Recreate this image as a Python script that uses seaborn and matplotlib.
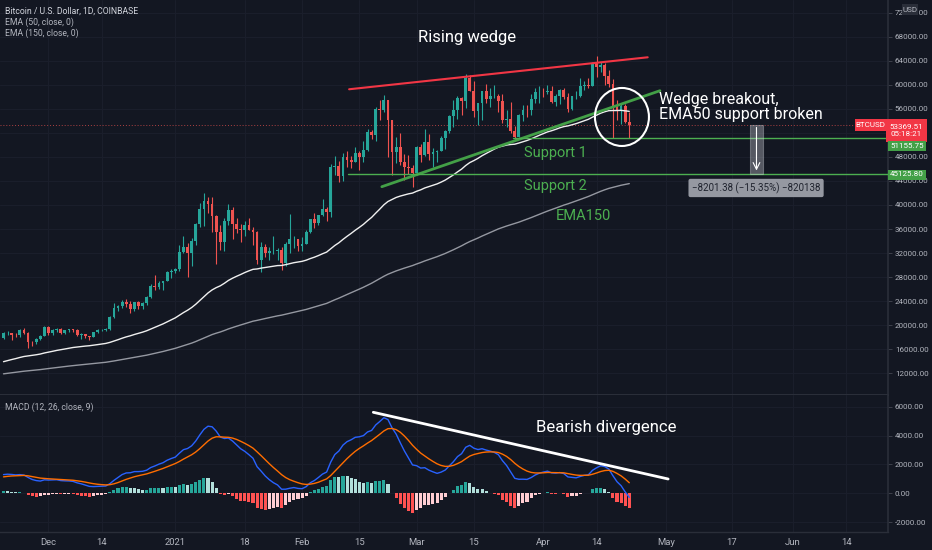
import numpy as np
import pandas as pd
import matplotlib
matplotlib.use('Agg')
import matplotlib.pyplot as plt
import matplotlib.dates as mdates
from matplotlib.patches import Ellipse, Rectangle
import seaborn as sns

# daily candles BTCUSD (Coinbase), 2020-11-20 .. 2021-04-22
first_open = 17820
closes_nov = [18680, 18710, 18420, 18370, 19160, 18730, 17150, 17140, 17720, 18180, 19700]
highs_nov = [18820, 18960, 18720, 18770, 19420, 19480, 18920, 17450, 17880, 18350, 19860]
lows_nov = [17760, 18330, 17610, 18000, 18030, 18570, 16200, 16530, 16880, 17540, 18180]

closes_dec = [18770, 19220, 19420, 18650, 19150, 19360, 19170, 18320, 18550, 18250,
              18030, 18800, 19170, 19270, 19430, 21340, 22800, 23130, 23860, 23480,
              22730, 23820, 23250, 23720, 24700, 26490, 26280, 27080, 27360, 28860, 28990]
highs_dec = [19920, 19300, 19590, 19520, 19170, 19420, 19420, 19290, 18640, 18560,
             18280, 18950, 19420, 19350, 19570, 21560, 23770, 23280, 24170, 24290,
             24100, 23840, 24100, 23790, 24780, 26880, 28420, 27400, 27380, 29000, 29300]
lows_dec = [18320, 18340, 18920, 18590, 18500, 18860, 18900, 18200, 17650, 17910,
            17570, 18000, 18700, 19000, 19050, 19280, 21230, 22350, 22780, 23080,
            22000, 22360, 22700, 22720, 23430, 24500, 25850, 26100, 25900, 27340, 27850]

closes_jan = [29400, 32200, 33000, 32030, 34030, 36830, 39410, 40670, 40240, 38240,
              35550, 33920, 37320, 39190, 36830, 36020, 35800, 36630, 35910, 35470,
              30850, 33000, 32090, 32290, 32370, 32570, 30430, 33470, 34270, 34290, 33110]
highs_jan = [29600, 33300, 34800, 33650, 34500, 36930, 40370, 41950, 41350, 41400,
             38300, 36600, 37850, 40100, 39700, 37900, 36800, 37400, 37850, 36400,
             35600, 33800, 33500, 32950, 34880, 32900, 32940, 33800, 38500, 34900, 34300]
lows_jan = [28700, 28950, 32000, 28000, 29900, 33400, 36300, 36500, 38720, 35500,
            30100, 32500, 32400, 36700, 34400, 35400, 33850, 34800, 35900, 33400,
            30100, 28800, 31400, 30900, 31900, 30800, 29240, 29900, 31950, 32900, 32300]

closes_feb = [33520, 35510, 37620, 36940, 38290, 39260, 38900, 46400, 46510, 44840,
              47970, 47410, 47220, 48600, 47930, 49150, 52120, 51570, 55900, 55870,
              57480, 54090, 48890, 49700, 47100, 46340, 46170, 45240]
highs_feb = [34700, 35900, 37650, 38700, 38300, 40950, 39700, 46750, 48200, 47300,
             48600, 48900, 48150, 49700, 49000, 50600, 52600, 52550, 56300, 57500,
             58350, 57500, 54180, 51300, 52000, 48400, 48350, 46600]
lows_feb = [32300, 33450, 35400, 36200, 36600, 38200, 37400, 37980, 45000, 43800,
            44000, 46300, 46200, 47100, 45800, 47100, 48950, 50900, 50700, 54100,
            55500, 48000, 45000, 47000, 46700, 44100, 45100, 43000]

closes_mar = [49620, 48380, 50540, 48440, 48870, 48910, 51200, 52390, 54880, 55850,
              57790, 57230, 61190, 59000, 55620, 56900, 58910, 57660, 58080, 58120,
              57350, 54100, 54340, 52300, 51310, 55030, 55840, 55780, 57620, 58790, 58800]
highs_mar = [49800, 50200, 52600, 51800, 49450, 49200, 51450, 52400, 54900, 57400,
             58150, 58000, 61800, 61700, 60600, 56950, 58970, 60100, 59450, 59900,
             58450, 58400, 55850, 57200, 53200, 55100, 56600, 56550, 58400, 59400, 59800]
lows_mar = [45000, 47100, 48100, 47500, 46300, 47100, 48900, 49300, 51900, 53000,
            54300, 55000, 56100, 58900, 54600, 53300, 54200, 56950, 56300, 57850,
            55500, 53700, 53000, 52000, 50900, 51300, 53950, 54700, 55000, 57000, 56900]

closes_apr = [58740, 58960, 57100, 58200, 59130, 57990, 56010, 58080, 58100, 59770,
              60000, 59860, 63580, 62960, 63260, 61430, 60070, 56270, 55710, 56470,
              53840, 53370]
highs_apr = [59470, 60000, 59800, 58500, 59250, 59500, 58650, 58150, 58900, 61200,
             60650, 61150, 63800, 64850, 63800, 63550, 62500, 61000, 57500, 57000,
             56800, 55450]
lows_apr = [57950, 58450, 57000, 56500, 56800, 57700, 55500, 55800, 57650, 57900,
            59050, 59400, 59800, 61300, 62050, 60000, 59600, 51200, 54200, 53400,
            53700, 51160]

# indicator state on the day before the first candle (read from the left edge)
ema50_seed = 13740
ema150_seed = 11820
ema12_seed = 16900
ema26_seed = 15650
signal_seed = 1100

last_price = 53369.51
support1 = 51155.75
support2 = 45125.80

# drawings on the chart
wedge_top_x = ['2021-02-12 12:00', '2021-04-26 12:00']
wedge_top_y = [59250, 64570]
wedge_low_x = ['2021-02-20 12:00', '2021-04-29 12:00']
wedge_low_y = [43040, 59010]
support1_start = '2021-03-24 14:00'
support2_start = '2021-02-12 05:00'
diverg_x = ['2021-02-18 10:00', '2021-05-01 12:00']
diverg_y = [5625, 993]
circle_center = ('2021-04-20 05:00', 54640)
measure_x = '2021-05-21 12:00'

tick_dates = ['2020-12-01', '2020-12-14', '2021-01-01', '2021-01-18', '2021-02-01',
              '2021-02-15', '2021-03-01', '2021-03-15', '2021-04-01', '2021-04-14',
              '2021-05-01', '2021-05-17', '2021-06-01', '2021-06-14']
tick_names = ['Dec', '14', '2021', '18', 'Feb', '15', 'Mar', '15', 'Apr', '14',
              'May', '17', 'Jun', '14']
price_ticks = list(range(12000, 72001, 4000))
hidden_price_tick = 52000   # sits under the last-price tag
macd_ticks = [-2000, 0, 2000, 4000, 6000]

BG = '#131722'
TXT = '#b2b5be'
GRID = '#1b1f2c'
SEP = '#2a2e39'
UP = '#26a69a'
DOWN = '#ef5350'
GREEN = '#4caf50'


def ema(values, span, seed):
    a = 2.0 / (span + 1)
    out = []
    prev = seed
    for v in values:
        prev = prev + a * (v - prev)
        out.append(prev)
    return np.array(out)


closes = np.array(closes_nov + closes_dec + closes_jan + closes_feb + closes_mar + closes_apr, float)
highs = np.array(highs_nov + highs_dec + highs_jan + highs_feb + highs_mar + highs_apr, float)
lows = np.array(lows_nov + lows_dec + lows_jan + lows_feb + lows_mar + lows_apr, float)
opens = np.r_[first_open, closes[:-1]]
dates = pd.date_range('2020-11-20', periods=len(closes), freq='D')
xnum = mdates.date2num(dates)

ema50 = ema(closes, 50, ema50_seed)
ema150 = ema(closes, 150, ema150_seed)
macd = ema(closes, 12, ema12_seed) - ema(closes, 26, ema26_seed)
signal = ema(macd, 9, signal_seed)
hist = macd - signal


def dn(s):
    return mdates.date2num(pd.Timestamp(s))


sns.set_theme(style='dark', rc={
    'figure.facecolor': BG, 'axes.facecolor': BG, 'axes.edgecolor': SEP,
    'text.color': TXT, 'xtick.color': TXT, 'ytick.color': TXT,
    'grid.color': GRID})
plt.rcParams['font.family'] = ['Roboto', 'DejaVu Sans']
BIG = ['Roboto', 'DejaVu Sans']
SMALL = 5.8

W, H = 932, 550
fig = plt.figure(figsize=(W / 100, H / 100), dpi=100)
ax = fig.add_axes([0, 1 - 395 / H, 888 / W, 395 / H])
ax2 = fig.add_axes([0, 1 - 532 / H, 888 / W, 137 / H], sharex=ax)

x_left = dn('2020-12-01') - 48.5 / 4.09
x_right = x_left + 888 / 4.09
ax.set_xlim(x_left, x_right)
ax.set_ylim(8390, 74100)
ax2.set_ylim(-2688, 6826)

# candles
up = closes >= opens
cols = np.where(up, UP, DOWN)
ax.vlines(xnum, lows, highs, colors=cols, lw=0.8, zorder=3)
ax.bar(xnum, np.maximum(np.abs(closes - opens), 80), bottom=np.minimum(opens, closes),
       width=0.68, color=cols, lw=0, zorder=4)

sns.lineplot(x=xnum, y=ema150, ax=ax, color='#9598a1', lw=1, zorder=5)
sns.lineplot(x=xnum, y=ema50, ax=ax, color='#f0f0f0', lw=1, zorder=5)

# last price dotted line
ax.axhline(last_price, color=DOWN, lw=0.7, ls=(0, (1, 2)), alpha=0.7, zorder=2)

# wedge
ax.plot([dn(d) for d in wedge_top_x], wedge_top_y, color='#f23645', lw=1.5, zorder=6)
ax.plot([dn(d) for d in wedge_low_x], wedge_low_y, color='#43a047', lw=2, zorder=6)
ax.plot([dn(support1_start), x_right], [support1, support1], color=GREEN, lw=1, zorder=6)
ax.plot([dn(support2_start), x_right], [support2, support2], color=GREEN, lw=1, zorder=6)
ax.add_patch(Ellipse((dn(circle_center[0]), circle_center[1]), 13.2, 9650,
                     fill=False, ec='white', lw=1.5, zorder=7))

ax.text(dn('2021-03-13 07:00'), 67780, 'Rising wedge', color='white', fontsize=12,
        family=BIG, ha='center', va='center', zorder=8)
ax.text(dn('2021-03-27 07:00'), 48650, 'Support 1', color=GREEN, fontsize=10.5,
        family=BIG, ha='left', va='center', zorder=8)
ax.text(dn('2021-03-27 07:00'), 43160, 'Support 2', color=GREEN, fontsize=10.5,
        family=BIG, ha='left', va='center', zorder=8)
ax.text(dn('2021-04-04 02:00'), 38170, 'EMA150', color=GREEN, fontsize=10.5,
        family=BIG, ha='left', va='center', zorder=8)
ax.text(dn('2021-04-29 07:00'), 56300, 'Wedge breakout,\nEMA50 support broken',
        color='white', fontsize=11.5, family=BIG, ha='left', va='center',
        linespacing=1.0, zorder=8)

# price range measure
mx = dn(measure_x)
ax.add_patch(Rectangle((mx, support2), 3.2, last_price - support2, fc='#d1d4dc',
                       alpha=0.35, ec='#d1d4dc', lw=0.8, zorder=6))
ax.annotate('', xy=(mx + 1.6, support2 + 150), xytext=(mx + 1.6, last_price),
            arrowprops=dict(arrowstyle='->', color='white', lw=0.8), zorder=7)
ax.text(mx + 1.5, 42830, '\u22128201.38 (\u221215.35%) \u2212820138', color='#1e222d',
        fontsize=7, ha='center', va='center', zorder=8,
        bbox=dict(boxstyle='round,pad=0.35,rounding_size=0.2', fc='#9598a1', ec='none'))

# MACD pane
hcols = []
for i, h in enumerate(hist):
    prev = hist[i - 1] if i > 0 else h
    if h >= 0:
        hcols.append(UP if h >= prev else '#b2dfdb')
    else:
        hcols.append('#ff5252' if h < prev else '#ffcdd2')
ax2.bar(xnum, hist, width=0.75, color=hcols, lw=0, zorder=3)
sns.lineplot(x=xnum, y=macd, ax=ax2, color='#2962ff', lw=1, zorder=4)
sns.lineplot(x=xnum, y=signal, ax=ax2, color='#ff6d00', lw=1, zorder=4)
ax2.plot([dn(d) for d in diverg_x], diverg_y, color='white', lw=2, zorder=5)
ax2.text(dn('2021-03-30 05:00'), 4535, 'Bearish divergence', color='white',
         fontsize=12, family=BIG, ha='left', va='center', zorder=6)

# axes styling
for a in (ax, ax2):
    a.set_xlabel('')
    a.set_ylabel('')
    a.yaxis.tick_right()
    a.grid(True, color=GRID, lw=0.7)
    a.set_axisbelow(True)
    for s in ('top', 'left'):
        a.spines[s].set_visible(False)
    a.spines['right'].set_color(SEP)
    a.spines['bottom'].set_color(SEP)
    a.spines['bottom'].set_linewidth(1.5)
    a.tick_params(axis='y', length=3, width=0.6, color='#434651', pad=2,
                  labelsize=SMALL, labelcolor=TXT)

ax.set_yticks(price_ticks)
ax.set_yticklabels(['' if v == hidden_price_tick else f'{v:.2f}' for v in price_ticks])
ax2.set_yticks(macd_ticks)
ax2.set_yticklabels([f'{v:.2f}' for v in macd_ticks])
ax2.set_xticks([dn(d) for d in tick_dates])
ax2.set_xticklabels(tick_names)
ax.tick_params(axis='x', length=0, labelbottom=False)
ax2.tick_params(axis='x', length=0, pad=4, labelsize=6.8, labelcolor=TXT)
ax2.spines['bottom'].set_linewidth(1)
ax.set_xlim(x_left, x_right)

# header texts
fig.text(5 / W, 1 - 11 / H, 'Bitcoin / U.S. Dollar, 1D, COINBASE', fontsize=6.2,
         color='#d1d4dc', va='center')
fig.text(5 / W, 1 - 22 / H, 'EMA (50, close, 0)', fontsize=6.2, color=TXT, va='center')
fig.text(5 / W, 1 - 33 / H, 'EMA (150, close, 0)', fontsize=6.2, color=TXT, va='center')
fig.text(5 / W, 1 - 407 / H, 'MACD (12, 26, close, 9)', fontsize=6.2, color=TXT, va='center')


def tag(x0, y0, x1, y1, color, text, tcolor='white'):
    fig.add_artist(Rectangle((x0 / W, 1 - y1 / H), (x1 - x0) / W, (y1 - y0) / H,
                             transform=fig.transFigure, fc=color, ec='none', zorder=10))
    fig.text((x0 + x1) / 2 / W, 1 - (y0 + y1) / 2 / H, text, color=tcolor, fontsize=SMALL,
             ha='center', va='center', linespacing=1.2, zorder=11)


tag(902, 4, 918, 15, '#2a2e39', 'USD', TXT)
tag(855, 119, 886, 130.5, '#f23645', 'BTCUSD')
tag(886, 119, 927, 142, '#f23645', '53369.51\n05:18:21')
tag(888, 141, 926, 151, '#43a047', '51155.75')
tag(888, 169.5, 926, 179.5, '#43a047', '45125.80')

fig.savefig('out.png', dpi=100, facecolor=BG)
